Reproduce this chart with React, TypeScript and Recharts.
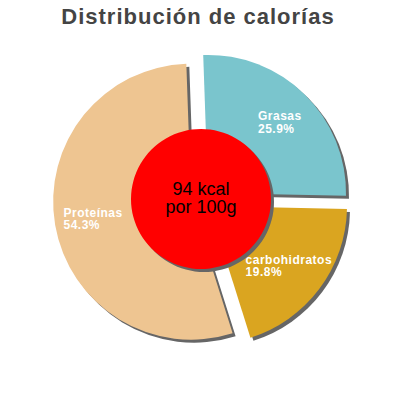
import { Pie, PieChart, Sector, Tooltip } from "recharts";

const nutrients = ["Grasas", "carbohidratos", "Proteínas"];
const percents = [25.9, 19.8, 54.3];
const colors = ["#7ac5cd", "#daa520", "#eec591"];
const energyLines = ["94 kcal", "por 100g"];

const data = nutrients.map((name, i) => ({ name, value: percents[i], fill: colors[i] }));
const centerData = [{ name: "energia", value: 1, fill: "#ff0000" }];

const RADIAN = Math.PI / 180;
const EXPLODE = 10;
const SHADOW = 3;
const FONT = "Arial, 'Liberation Sans', sans-serif";

function ExplodedSector(props: any) {
  const { cx, cy, innerRadius, outerRadius, startAngle, endAngle, midAngle, fill, explode = EXPLODE } = props;
  const dx = explode * Math.cos(-midAngle * RADIAN);
  const dy = explode * Math.sin(-midAngle * RADIAN);
  const common = { innerRadius, outerRadius, startAngle, endAngle };
  return (
    <g>
      <Sector {...common} cx={cx + dx + SHADOW} cy={cy + dy + SHADOW} fill="#666666" stroke="none" />
      <Sector {...common} cx={cx + dx} cy={cy + dy} fill={fill} stroke="none" />
    </g>
  );
}

const CenterSector = (props: any) => <ExplodedSector {...props} explode={0} />;

function SliceLabel(props: any) {
  const { cx, cy, midAngle, outerRadius, name, value } = props;
  const r = outerRadius * 0.72 + EXPLODE;
  const x = cx + r * Math.cos(-midAngle * RADIAN);
  const y = cy + r * Math.sin(-midAngle * RADIAN);
  const pct = `${value.toFixed(1)}%`;
  const w = Math.max(name.length, pct.length) * 6.6;
  return (
    <text
      x={x - w / 2}
      y={y - 2}
      fill="#ffffff"
      fontSize={12}
      fontWeight="bold"
      letterSpacing={0.5}
      fontFamily={FONT}
    >
      <tspan x={x - w / 2}>{name}</tspan>
      <tspan x={x - w / 2} dy={12.5}>
        {pct}
      </tspan>
    </text>
  );
}

function CenterLabel(props: any) {
  const { cx, cy } = props;
  return (
    <text x={cx} y={cy - 4} fill="#000000" fontSize={18} textAnchor="middle" fontFamily={FONT}>
      <tspan x={cx}>{energyLines[0]}</tspan>
      <tspan x={cx} dy={18}>
        {energyLines[1]}
      </tspan>
    </text>
  );
}

export default function App() {
  return (
    <div
      style={{
        position: "absolute",
        left: 0,
        top: 0,
        width: 400,
        height: 400,
        background: "#ffffff",
        fontFamily: FONT
      }}
    >
      <div
        style={{
          position: "absolute",
          left: 0,
          top: 4,
          width: 396,
          textAlign: "center",
          fontSize: 22,
          lineHeight: "26px",
          letterSpacing: 1,
          fontWeight: "bold",
          color: "#444444"
        }}
      >
        Distribución de calorías
      </div>
      <PieChart width={400} height={400} margin={{ top: 0, right: 0, bottom: 0, left: 0 }}>
        <Pie
          data={data}
          dataKey="value"
          nameKey="name"
          cx={201}
          cy={200}
          outerRadius={138}
          startAngle={92}
          endAngle={-268}
          stroke="none"
          isAnimationActive={false}
          shape={ExplodedSector}
          activeShape={ExplodedSector}
          inactiveShape={ExplodedSector}
          label={SliceLabel}
          labelLine={false}
        />
        <Pie
          data={centerData}
          dataKey="value"
          cx={201}
          cy={199}
          outerRadius={70}
          startAngle={90}
          endAngle={-270}
          stroke="none"
          isAnimationActive={false}
          shape={CenterSector}
          activeShape={CenterSector}
          inactiveShape={CenterSector}
          label={CenterLabel}
          labelLine={false}
        />
        <Tooltip defaultIndex={0} content={() => null} cursor={false} />
      </PieChart>
    </div>
  );
}
